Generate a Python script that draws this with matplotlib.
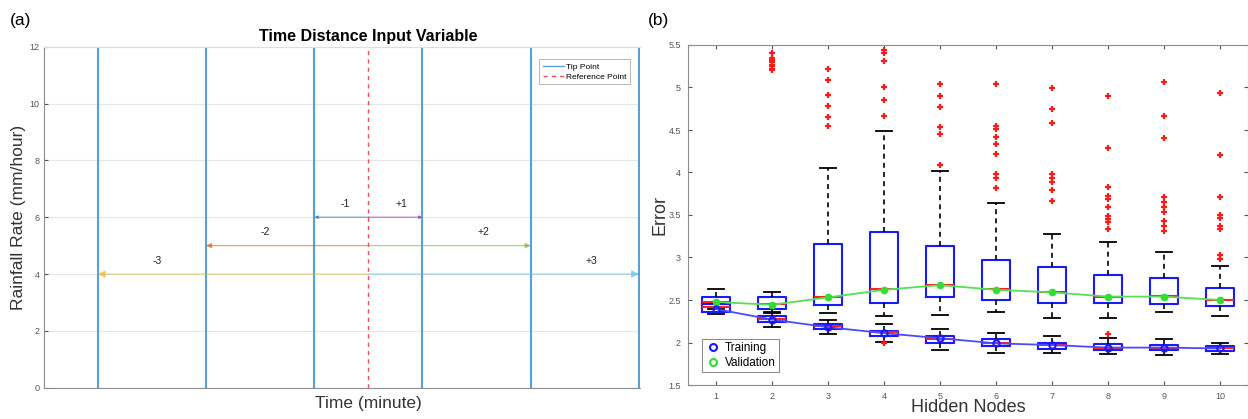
import numpy as np
import matplotlib
matplotlib.use("Agg")
import matplotlib.pyplot as plt
from matplotlib.lines import Line2D

plt.rcParams['font.family'] = ['Liberation Sans', 'DejaVu Sans']

# ---- panel (a) data ----
tip_points = [-2.5, -1.5, -0.5, 0.5, 1.5, 2.5]
reference_point = 0.0
arrow_labels = ['-1', '-2', '-3', '+1', '+2', '+3']
arrow_ends = [-0.5, -1.5, -2.5, 0.5, 1.5, 2.5]
arrow_rates = [6, 5, 4, 6, 5, 4]
arrow_colors = ['#0072BD', '#D95319', '#EDB120', '#7E2F8E', '#77AC30', '#4DBEEE']
label_x = [-0.21, -0.95, -1.95, 0.31, 1.06, 2.06]
label_y = [6.46, 5.48, 4.46, 6.46, 5.48, 4.46]

# ---- panel (b) data ----
nodes = list(range(1, 11))
val_q1 = [2.456, 2.393, 2.444, 2.47, 2.54, 2.503, 2.47, 2.46, 2.45, 2.432]
val_med = [2.48, 2.452, 2.538, 2.625, 2.68, 2.625, 2.593, 2.54, 2.545, 2.503]
val_q3 = [2.538, 2.538, 3.16, 3.30, 3.14, 2.97, 2.89, 2.80, 2.76, 2.637]
val_lo = [2.40, 2.354, 2.35, 2.314, 2.326, 2.354, 2.283, 2.283, 2.357, 2.31]
val_hi = [2.633, 2.597, 4.056, 4.485, 4.013, 3.647, 3.28, 3.183, 3.07, 2.90]
val_mean = [2.475, 2.445, 2.53, 2.62, 2.675, 2.62, 2.59, 2.54, 2.54, 2.50]
val_fliers = [
    [],
    [5.20, 5.22, 5.25, 5.27, 5.30, 5.32, 5.35, 5.40],
    [5.217, 5.083, 4.914, 4.784, 4.654, 4.548],
    [5.44, 5.40, 5.31, 5.01, 4.855, 4.66],
    [5.036, 4.902, 4.772, 4.536, 4.45, 4.088],
    [5.036, 4.544, 4.517, 4.42, 4.336, 4.22, 3.98, 3.935, 3.817],
    [4.99, 4.745, 4.584, 3.98, 3.89, 3.79, 3.67, 3.94],
    [4.90, 4.29, 3.83, 3.726, 3.69, 3.59, 3.49, 3.455, 3.423, 3.337],
    [5.067, 4.666, 4.41, 3.71, 3.65, 3.59, 3.53, 3.435, 3.376, 3.317],
    [4.93, 4.21, 3.71, 3.502, 3.46, 3.37, 3.34, 3.03, 2.98],
]

tr_q1 = [2.361, 2.247, 2.157, 2.078, 2.0, 1.956, 1.925, 1.917, 1.91, 1.90]
tr_med = [2.412, 2.275, 2.19, 2.118, 2.04, 1.995, 1.97, 1.94, 1.94, 1.93]
tr_q3 = [2.456, 2.31, 2.216, 2.137, 2.074, 2.04, 2.0, 1.988, 1.97, 1.956]
tr_lo = [2.334, 2.18, 2.098, 2.007, 1.91, 1.88, 1.874, 1.87, 1.854, 1.862]
tr_hi = [2.47, 2.35, 2.263, 2.216, 2.157, 2.11, 2.08, 2.05, 2.04, 2.0]
tr_mean = [2.393, 2.27, 2.18, 2.11, 2.05, 1.99, 1.97, 1.94, 1.94, 1.93]
tr_fliers = [[], [], [], [1.99], [], [], [], [2.098], [], []]

fig = plt.figure(figsize=(12.48, 4.19), dpi=100)
tick_gray = '#555555'
spine_gray = '#8c8c8c'

# ================= (a) =================
ax1 = fig.add_axes([43.7 / 1248, 1 - 387.7 / 419, (640 - 43.7) / 1248, (387.7 - 46.7) / 419])
ax1.set_xlim(-3, 2.51)
ax1.set_ylim(0, 12)
ax1.set_yticks(range(0, 13, 2))
ax1.set_xticks([])
ax1.grid(axis='y', color='#e6e6e6', lw=0.8)
ax1.set_axisbelow(True)
for s in ax1.spines.values():
    s.set_color(spine_gray)
    s.set_linewidth(0.8)
ax1.spines['top'].set_color('#dddddd')
ax1.spines['right'].set_visible(False)
ax1.tick_params(axis='y', direction='in', length=3, labelsize=6.5, colors=tick_gray, pad=3)

for t in tip_points:
    ax1.axvline(t, color='#5a9fd6', lw=1.5)
ax1.axvline(reference_point, color='#e8505b', lw=1.0, ls=(0, (3, 3)))

for lab, xe, yr, c, lx, ly in zip(arrow_labels, arrow_ends, arrow_rates, arrow_colors, label_x, label_y):
    L = abs(xe - reference_point)
    ax1.annotate('', xy=(xe, yr), xytext=(reference_point, yr),
                 arrowprops=dict(arrowstyle='-|>', color=c, lw=0.9, alpha=0.55,
                                 mutation_scale=3 + 3 * L, shrinkA=0, shrinkB=0))
    ax1.text(lx, ly, lab, ha='center', va='center', fontsize=7.5, color='#222222')

leg1 = ax1.legend([Line2D([], [], color='#5a9fd6', lw=1),
                   Line2D([], [], color='#e8505b', lw=1, ls=(0, (3, 3)))],
                  ['Tip Point', 'Reference Point'], loc='upper right',
                  bbox_to_anchor=(0.99, 0.975), fontsize=6, frameon=True, fancybox=False,
                  handlelength=2.5, borderpad=0.4, labelspacing=0.3, handletextpad=0.3)
leg1.get_frame().set_edgecolor('#999999')
leg1.get_frame().set_linewidth(0.6)

ax1.set_title('Time Distance Input Variable', fontsize=11.5, fontweight='bold', x=0.545, pad=4)
ax1.set_xlabel('Time (minute)', fontsize=12.5, color='#333333')
ax1.xaxis.set_label_coords(0.545, -0.025, transform=ax1.transAxes)
ax1.xaxis.label.set_va('top')
ax1.set_ylabel('Rainfall Rate (mm/hour)', fontsize=12.5, color='#333333')
ax1.yaxis.set_label_coords(-0.043, 0.5, transform=ax1.transAxes)
ax1.yaxis.label.set_va('center')
fig.text(10 / 1248, 1 - 20 / 419, '(a)', fontsize=12.5, va='center')

# ================= (b) =================
ax2 = fig.add_axes([688 / 1248, 1 - 385 / 419, (1248 - 688) / 1248, (385 - 45) / 419])
ax2.set_xlim(0.5, 10.5)
ax2.set_ylim(1.5, 5.5)


def make_stats(q1, med, q3, lo, hi, fl):
    return [dict(q1=a, med=b, q3=c, whislo=d, whishi=e, fliers=f)
            for a, b, c, d, e, f in zip(q1, med, q3, lo, hi, fl)]


box_kw = dict(positions=nodes, widths=0.5, showfliers=True,
              boxprops=dict(color='#1a1aff', lw=1.5),
              medianprops=dict(color='#ff2020', lw=1.5),
              whiskerprops=dict(color='black', lw=1.2, ls=(0, (3, 2.5))),
              capprops=dict(color='black', lw=1.3),
              flierprops=dict(marker='+', markeredgecolor='#ff1a1a', markersize=5, mew=1.6))
cap_w = 0.28
ax2.bxp(make_stats(val_q1, val_med, val_q3, val_lo, val_hi, val_fliers), capwidths=cap_w, **box_kw)
ax2.bxp(make_stats(tr_q1, tr_med, tr_q3, tr_lo, tr_hi, tr_fliers), capwidths=cap_w, **box_kw)

ax2.plot(nodes, val_mean, color='#55e055', lw=1.3, zorder=4)
ax2.plot(nodes, val_mean, 'o', color='#33dd33', ms=4.5, zorder=5, label='Validation')
ax2.plot(nodes, tr_mean, color='#4a4aff', lw=1.3, zorder=4)
ax2.plot(nodes, tr_mean, 'o', mfc='none', mec='#1a1aff', mew=1.5, ms=4.5, zorder=5, label='Training')

ax2.set_xticks(nodes)
ax2.set_xticklabels([str(n) for n in nodes])
ax2.set_yticks(np.arange(1.5, 5.51, 0.5))
ax2.set_yticklabels(['1.5', '2', '2.5', '3', '3.5', '4', '4.5', '5', '5.5'])
ax2.tick_params(direction='in', length=3, labelsize=6.5, colors=tick_gray, top=True, right=True, pad=5)
for s in ax2.spines.values():
    s.set_color(spine_gray)
    s.set_linewidth(0.8)

h = [Line2D([], [], ls='none', marker='o', mfc='none', mec='#1a1aff', mew=1.5, ms=5),
     Line2D([], [], ls='none', marker='o', mfc='none', mec='#33dd33', mew=1.5, ms=5)]
leg2 = ax2.legend(h, ['Training', 'Validation'], loc='lower left', bbox_to_anchor=(0.015, 0.02),
                  fontsize=8.5, frameon=True, fancybox=False, borderpad=0.3, labelspacing=0.2,
                  handlelength=1.2, handletextpad=0.4)
leg2.get_frame().set_edgecolor('#666666')
leg2.get_frame().set_linewidth(0.7)

ax2.set_xlabel('Hidden Nodes', fontsize=13, color='#333333')
ax2.xaxis.set_label_coords(0.5, -0.04, transform=ax2.transAxes)
ax2.xaxis.label.set_va('top')
ax2.set_ylabel('Error', fontsize=13, color='#333333')
ax2.yaxis.set_label_coords(-0.05, 0.5, transform=ax2.transAxes)
ax2.yaxis.label.set_va('center')
fig.text(648 / 1248, 1 - 20 / 419, '(b)', fontsize=12.5, va='center')

fig.savefig('out.png', dpi=100)
